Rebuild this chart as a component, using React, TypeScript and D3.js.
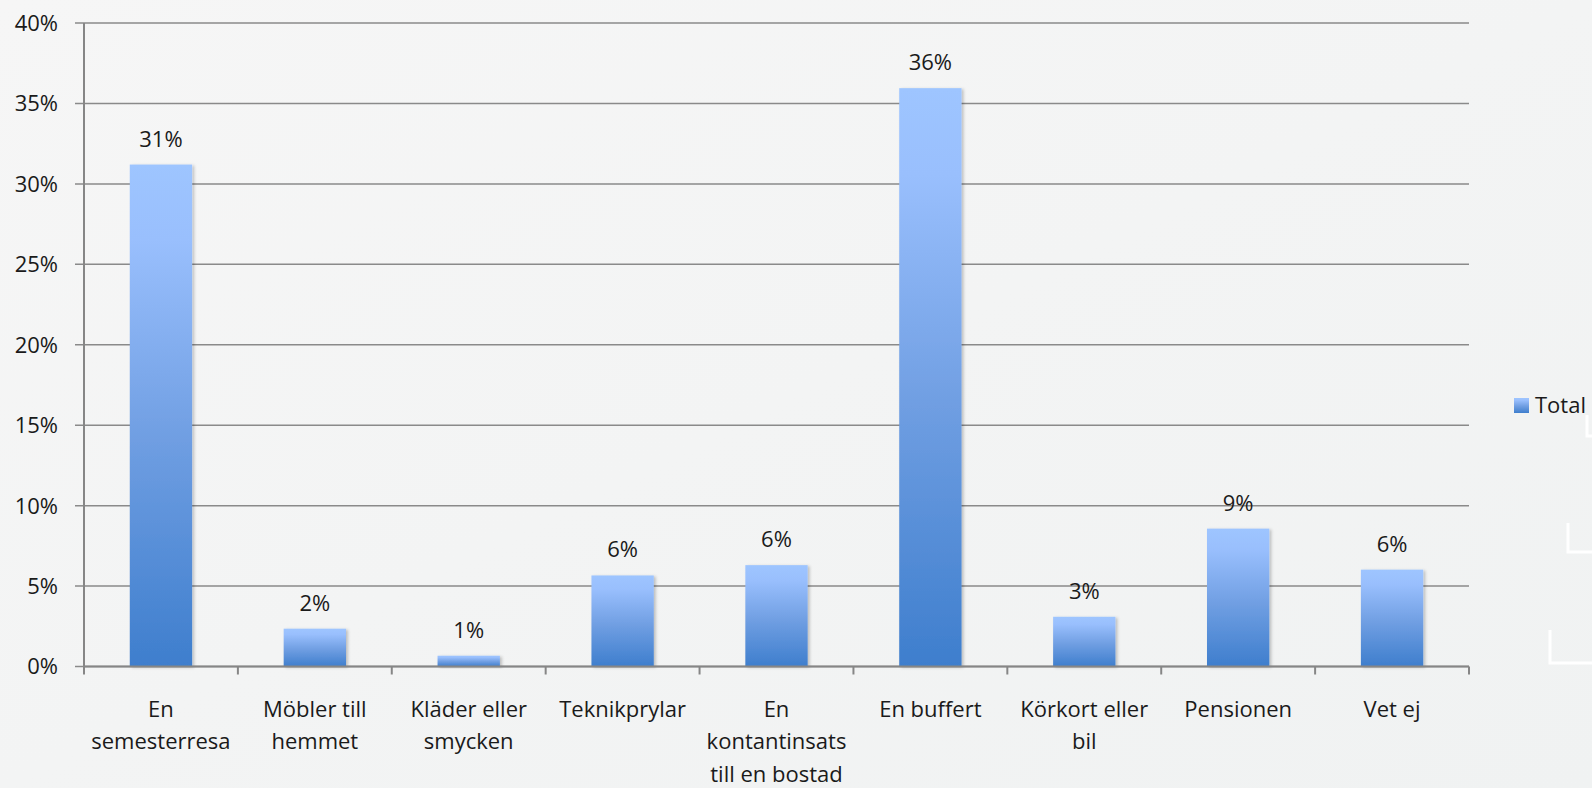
import React from 'react';
import * as d3 from 'd3';

const categories = [
  'En semesterresa',
  'Möbler till hemmet',
  'Kläder eller smycken',
  'Teknikprylar',
  'En kontantinsats till en bostad',
  'En buffert',
  'Körkort eller bil',
  'Pensionen',
  'Vet ej',
];
// how Excel wrapped the category labels
const labelLines = [
  ['En', 'semesterresa'],
  ['Möbler till', 'hemmet'],
  ['Kläder eller', 'smycken'],
  ['Teknikprylar'],
  ['En', 'kontantinsats', 'till en bostad'],
  ['En buffert'],
  ['Körkort eller', 'bil'],
  ['Pensionen'],
  ['Vet ej'],
];
const totals = [0.312, 0.0235, 0.0067, 0.0566, 0.063, 0.3595, 0.0309, 0.0857, 0.0602];
const yTicks = [0, 0.05, 0.1, 0.15, 0.2, 0.25, 0.3, 0.35, 0.4];
const seriesName = 'Total';

const W = 1592;
const H = 788;
const FONT = '"Open Sans", sans-serif';

export default function App() {
  const left = 84, right = 1469, top = 23, bottom = 666.5;

  const x = d3.scaleBand<string>()
    .domain(categories)
    .range([left, right])
    .paddingInner(0.595)
    .paddingOuter(0.2975);
  const step = (right - left) / categories.length;

  const y = d3.scaleLinear().domain([0, 0.4]).range([bottom, top]);
  const pct = d3.format('.0%');

  return (
    <svg width={W} height={H} style={{ position: 'absolute', left: 0, top: 0 }} fontFamily={FONT}>
      <defs>
        <linearGradient id="bg" x1="0" y1="0" x2="1" y2="1">
          <stop offset="0" stopColor="#f6f6f6" />
          <stop offset="1" stopColor="#f0f2f2" />
        </linearGradient>
        <linearGradient id="barFill" x1="0" y1="0" x2="0" y2="1">
          <stop offset="0" stopColor="#9ec5ff" />
          <stop offset="0.15" stopColor="#99bffd" />
          <stop offset="0.55" stopColor="#6f9ee2" />
          <stop offset="1" stopColor="#3e7ecd" />
        </linearGradient>
        <filter id="shadow" x="-20%" y="-20%" width="140%" height="140%">
          <feDropShadow dx="2" dy="1" stdDeviation="1.5" floodColor="#000" floodOpacity="0.22" />
        </filter>
      </defs>
      <rect width={W} height={H} fill="url(#bg)" />

      {/* gridlines + y ticks */}
      {yTicks.map(t => (
        <g key={t}>
          <line x1={t === 0 ? left - 9 : left - 9} x2={right} y1={y(t)} y2={y(t)}
            stroke="#8a8a8a" strokeWidth={1.5} />
          <text x={58} y={y(t)} dy="0.36em" textAnchor="end" fontSize={22} fill="#1a1a1a">
            {pct(t)}
          </text>
        </g>
      ))}

      {/* bars */}
      {categories.map((c, i) => (
        <rect key={c} x={x(c)} y={y(totals[i])} width={x.bandwidth()} height={bottom - y(totals[i])}
          fill="url(#barFill)" filter="url(#shadow)" />
      ))}

      {/* axes */}
      <line x1={left} x2={left} y1={top} y2={bottom} stroke="#868686" strokeWidth={2} />
      <line x1={left} x2={right} y1={bottom} y2={bottom} stroke="#868686" strokeWidth={2} />
      {d3.range(categories.length + 1).map(k => (
        <line key={k} x1={left + k * step} x2={left + k * step} y1={bottom} y2={bottom + 8}
          stroke="#868686" strokeWidth={2} />
      ))}

      {/* value labels */}
      {categories.map((c, i) => (
        <text key={c} x={x(c)! + x.bandwidth() / 2} y={y(totals[i]) - 18} textAnchor="middle"
          fontSize={22} fill="#1a1a1a">
          {pct(totals[i])}
        </text>
      ))}

      {/* category labels */}
      {categories.map((c, i) => (
        <text key={c} x={x(c)! + x.bandwidth() / 2} textAnchor="middle" fontSize={22} fill="#1a1a1a">
          {labelLines[i].map((ln, j) => (
            <tspan key={j} x={x(c)! + x.bandwidth() / 2} y={716.5 + j * 32.5}>{ln}</tspan>
          ))}
        </text>
      ))}

      {/* legend */}
      <rect x={1514} y={398} width={15} height={15} fill="url(#barFill)" />
      <text x={1535} y={405.5} dy="0.36em" fontSize={22} fill="#1a1a1a">{seriesName}</text>

      {/* decorative corner marks at the right edge */}
      <g stroke="#ffffff" strokeWidth={3} fill="none">
        <path d="M1587,415V436H1592" />
        <path d="M1568,523V552H1592" />
        <path d="M1550,630V663H1592" />
      </g>
    </svg>
  );
}
